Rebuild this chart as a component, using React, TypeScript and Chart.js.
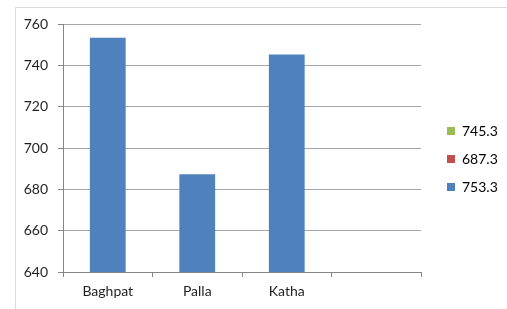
import React, { useEffect, useRef } from "react";
import { Chart, registerables } from "chart.js";

Chart.register(...registerables);

const categories: string[] = ["Baghpat", "Palla", "Katha", ""];
const seriesValues: (number | null)[] = [753.3, 687.3, 745.3, null];
const legendLabels: string[] = ["745.3", "687.3", "753.3"];
const legendColors: string[] = ["#9BBB59", "#C0504D", "#4F81BD"];
const yMin = 640;
const yMax = 760;
const yStep = 20;

const FONT = "Lato, 'Noto Sans', sans-serif";
const TEXT = "#1f1f1f";

export default function App() {
  const ref = useRef<HTMLCanvasElement | null>(null);

  useEffect(() => {
    if (!ref.current) return;
    const chart = new Chart(ref.current, {
      type: "bar",
      data: {
        labels: categories,
        datasets: [
          {
            label: legendLabels[2],
            data: seriesValues,
            backgroundColor: "#4F81BD",
            borderWidth: 0,
            categoryPercentage: 1,
            barPercentage: 0.4,
          },
        ],
      },
      options: {
        animation: false,
        responsive: true,
        maintainAspectRatio: false,
        layout: { padding: { top: 9, right: 0, bottom: 0, left: 0 } },
        plugins: {
          tooltip: { enabled: false },
          title: { display: false },
          legend: {
            display: true,
            position: "right",
            maxWidth: 74,
            labels: {
              boxWidth: 8,
              boxHeight: 8,
              padding: 14,
              color: TEXT,
              font: { family: FONT, size: 14 },
              generateLabels: () =>
                legendLabels.map((t, i) => ({
                  text: t,
                  fillStyle: legendColors[i],
                  strokeStyle: legendColors[i],
                  lineWidth: 0,
                  hidden: false,
                  datasetIndex: 0,
                })),
            },
            onClick: () => {},
          },
        },
        scales: {
          x: {
            type: "category",
            position: "bottom",
            offset: true,
            grid: {
              display: true,
              offset: true,
              drawOnChartArea: false,
              drawTicks: true,
              tickLength: 5,
              tickColor: "#868686",
            },
            border: { display: true, color: "#868686", width: 1 },
            ticks: {
              color: TEXT,
              font: { family: FONT, size: 14 },
              padding: 6,
              maxRotation: 0,
            },
            afterFit: (s: any) => {
              s.height = 37;
            },
          },
          xTop: {
            type: "linear",
            axis: "x",
            position: "top",
            display: true,
            grid: { display: false },
            border: { display: false },
            ticks: { display: false },
            afterFit: (s: any) => {
              s.height = 15;
            },
          },
          y: {
            type: "linear",
            position: "left",
            min: yMin,
            max: yMax,
            grid: {
              display: true,
              color: "#a6a6a6",
              drawTicks: true,
              tickLength: 5,
              tickColor: "#868686",
            },
            border: { display: true, color: "#868686", width: 1 },
            ticks: {
              stepSize: yStep,
              color: TEXT,
              font: { family: FONT, size: 14 },
              padding: 10,
            },
            afterFit: (s: any) => {
              s.width = 63;
            },
          },
          yRight: {
            type: "linear",
            position: "right",
            display: true,
            grid: { display: false },
            border: { display: false },
            ticks: { display: false },
            afterFit: (s: any) => {
              s.width = 12;
            },
          },
        },
      },
    });
    return () => chart.destroy();
  }, []);

  return (
    <div
      style={{
        position: "absolute",
        left: 0,
        top: 0,
        width: 507,
        height: 309,
        background: "#ffffff",
        overflow: "hidden",
      }}
    >
      <div
        style={{
          position: "absolute",
          left: 15,
          top: 7,
          right: 0,
          bottom: 0,
          borderTop: "1px solid #d9d9d9",
          borderLeft: "1px solid #d9d9d9",
        }}
      />
      <canvas
        ref={ref}
        style={{ position: "absolute", left: 0, top: 0, width: 507, height: 309 }}
      />
    </div>
  );
}
